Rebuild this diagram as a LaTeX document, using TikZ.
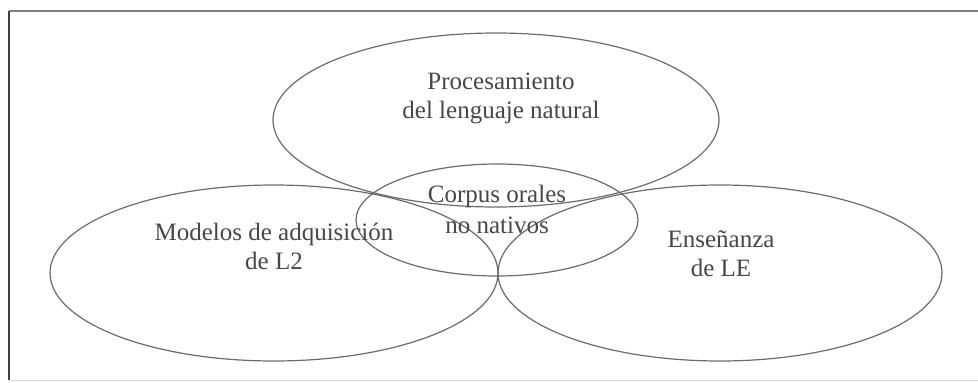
\documentclass[tikz,border=0pt]{standalone}
\usepackage{fontspec}
\setmainfont{Liberation Serif}
\usepackage{tikz}
\usetikzlibrary{calc}

\begin{document}
\begin{tikzpicture}[x=1pt,y=-1pt,
        area/.style={draw=black!58, line width=1.2pt},
        lbl/.style={align=center, text=black!72, inner sep=0pt,
            font=\fontsize{25}{29}\selectfont}]
        \useasboundingbox (0,0) rectangle (978,383);
        % frame
        \coordinate (TL) at (9,11);
        \coordinate (TR) at (978,11);
        \coordinate (BL) at (9,380);
        \coordinate (BR) at (978,380);
        \draw[black!15, line width=1pt] (BL) -- (BR);
        \draw[black!50, line width=1.2pt] (TL) -- (TR);
        \draw[black!75, line width=1.6pt] (TL) -- (BL);
        % ellipse centres
        \coordinate (P) at (496,120);
        \coordinate (C) at (497,220);
        \coordinate (M) at (274,273);
        \coordinate (E) at (720,273);
        \draw[area] (P) ellipse [x radius=223, y radius=87];
        \draw[area] (C) ellipse [x radius=141, y radius=56];
        \draw[area] (M) ellipse [x radius=224, y radius=88];
        \draw[area] (E) ellipse [x radius=222, y radius=88];
        % labels
        \node[lbl] (nlp) at ($(P)+(5,-22)$) {Procesamiento\\del lenguaje natural};
        \node[lbl] (corpus) at ($(C)+(0,-11)$) {Corpus orales\\[2pt]no nativos};
        \node[lbl] (adq) at ($(M)+(0,-27)$) {Modelos de adquisición\\de L2};
        \node[lbl] (ens) at ($(E)+(1,-19)$) {Enseñanza\\de LE};
    \end{tikzpicture}
\end{document}
